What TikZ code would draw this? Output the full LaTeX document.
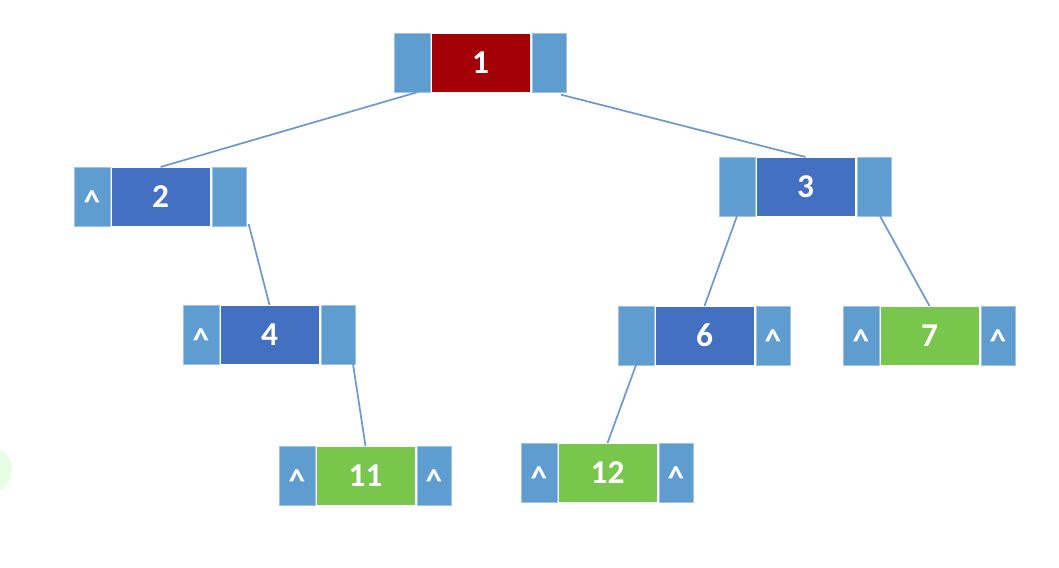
\documentclass[tikz,border=0pt]{standalone}
\usepackage{fontspec}
\setmainfont{Carlito}
\usetikzlibrary{calc}
\definecolor{sidebl}{HTML}{5F9DD1}
\definecolor{mainbl}{HTML}{4470C2}
\definecolor{mainrd}{HTML}{A30008}
\definecolor{maingr}{HTML}{78C64C}
\definecolor{edgec}{HTML}{6E9BCB}
\tikzset{
  px/.style={x=0.75pt,y=-0.75pt},
  sidebox/.style={rectangle,fill=sidebl,draw=sidebl!60!white,line width=0.3pt,minimum width=27pt,minimum height=44.25pt,inner sep=0pt,outer sep=0pt,text=white},
  mainbox/.style={rectangle,draw=white,line width=0.3pt,minimum width=74.25pt,minimum height=44.25pt,inner sep=0pt,outer sep=0pt,text=white,font=\bfseries\fontsize{25}{25}\selectfont},
  edge/.style={draw=edgec,line width=1.3pt},
  caret/.style={text=white,font=\bfseries\fontsize{25}{25}\selectfont,inner sep=0pt,anchor=base}
}
% #1 name, #2 left x, #3 top y, #4 colour, #5 label, #6 left caret (1/0), #7 right caret (1/0)
\newcommand\mytreenode[7]{%
  \node[sidebox] (#1L) at (#2+18,#3+29.5) {};
  \node[mainbox,fill=#4] (#1) at (#2+86.5,#3+29.5) {\raisebox{-1.5pt}{#5}};
  \node[sidebox,minimum width=25.5pt] (#1R) at (#2+155,#3+29.5) {};
  \ifnum#6=1 \node[caret] (#1Lc) at (#2+18,#3+46) {\textasciicircum};\fi
  \ifnum#7=1 \node[caret] (#1Rc) at (#2+155,#3+46) {\textasciicircum};\fi
}
\begin{document}
\begin{tikzpicture}[px]
\useasboundingbox (0,0) rectangle (1059,567);
\fill[green!20!white,opacity=0.5] (-12,470) circle (24);
\mytreenode{n1}{394}{33}{mainrd}{1}{0}{0}
\mytreenode{n2}{74}{167}{mainbl}{2}{1}{0}
\mytreenode{n3}{719}{157}{mainbl}{3}{0}{0}
\mytreenode{n4}{183}{305}{mainbl}{4}{1}{0}
\mytreenode{n6}{618}{306}{mainbl}{6}{0}{1}
\mytreenode{n7}{843}{306}{maingr}{7}{1}{1}
\mytreenode{n11}{279}{446}{maingr}{11}{1}{1}
\mytreenode{n12}{521}{443}{maingr}{12}{1}{1}
\draw[edge] ([xshift=4.5pt]n1L.south) -- (n2.north);
\draw[edge] ([xshift=9pt,yshift=-2pt]n1R.south) -- (n3.north);
\draw[edge] ([xshift=2pt,yshift=1.5pt]n2R.south east) -- (n4.north);
\draw[edge] (n3L.south) -- (n6.north);
\draw[edge] ([xshift=4.5pt]n3R.south) -- (n7.north);
\draw[edge] ([xshift=-1.5pt]n4R.south east) -- (n11.north);
\draw[edge] (n6L.south) -- (n12.north);
\end{tikzpicture}
\end{document}
